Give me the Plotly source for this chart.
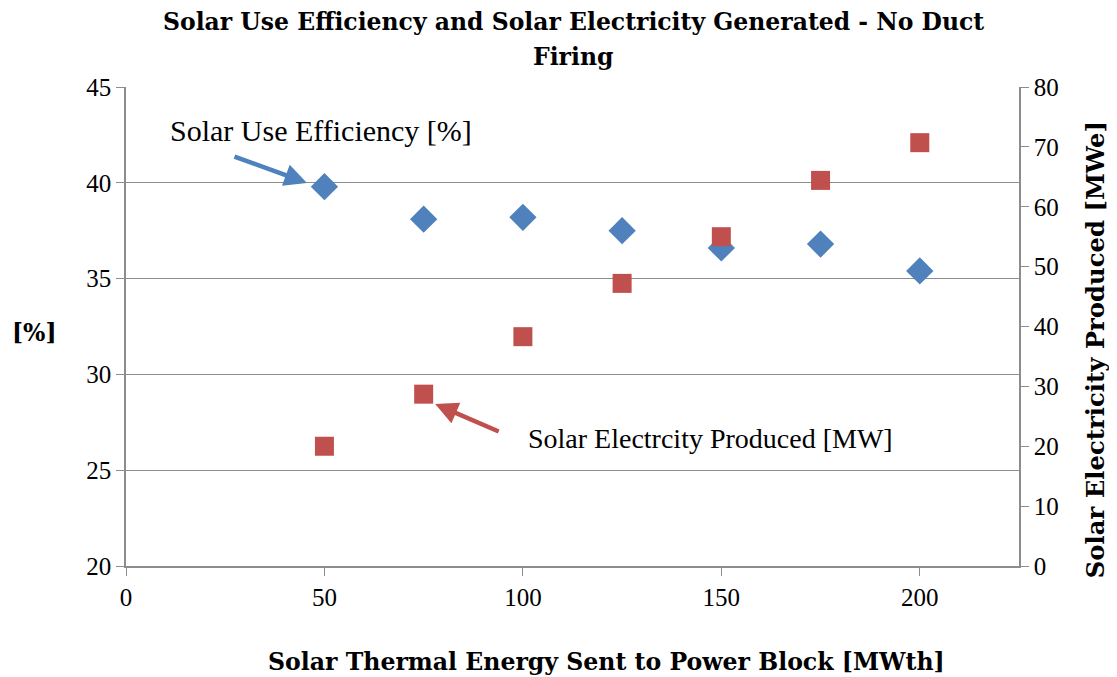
import plotly.graph_objects as go

# data
thermal_mwth = [50, 75, 100, 125, 150, 175, 200]
use_efficiency_pct = [39.8, 38.1, 38.2, 37.5, 36.6, 36.8, 35.4]
electricity_mwe = [20.0, 28.7, 38.3, 47.2, 55.0, 64.4, 70.7]

BLUE = "#4F81BD"
RED = "#C0504D"
GRID = "#8c8c8c"
SERIF = "Liberation Serif"
BOLD = "DejaVu Serif"

fig = go.Figure()

fig.add_trace(go.Scatter(
    x=thermal_mwth, y=use_efficiency_pct, mode="markers",
    name="Solar Use Efficiency [%]",
    marker=dict(symbol="diamond", size=21, color=BLUE),
))

fig.add_trace(go.Scatter(
    x=thermal_mwth, y=electricity_mwe, mode="markers",
    name="Solar Electricity Produced [MWe]", yaxis="y2",
    marker=dict(symbol="square", size=19, color=RED),
))

axis_common = dict(
    zeroline=False, automargin=False,
    showline=True, linecolor=GRID, linewidth=1.5,
    ticks="outside", ticklen=8, tickcolor=GRID,
    tickfont=dict(family=SERIF, size=25),
)

# page body adds an 8px offset, margins account for it
fig.update_layout(
    width=1117, height=677,
    margin=dict(l=118, r=106, t=79, b=119),
    plot_bgcolor="white", paper_bgcolor="white",
    showlegend=False,
    font=dict(family=SERIF, size=24, color="black"),
    xaxis=dict(range=[0, 225], tickvals=[0, 50, 100, 150, 200],
               showgrid=False, **axis_common),
    yaxis=dict(range=[20, 45], dtick=5,
               showgrid=True, gridcolor=GRID, gridwidth=1.2, **axis_common),
    yaxis2=dict(range=[0, 80], dtick=10, overlaying="y", side="right",
                showgrid=False, **axis_common),
)


def note(text, x, y, family=BOLD, size=23, angle=0):
    fig.add_annotation(text=text, xref="paper", yref="paper", x=x, y=y,
                       xanchor="center", yanchor="middle", showarrow=False,
                       textangle=angle, font=dict(family=family, size=size))


# titles
note("<b>Solar Use Efficiency and Solar Electricity Generated - No Duct</b>", 0.5006, 1.1357, size=23.5)
note("<b>Firing</b>", 0.5006, 1.0626, size=23.5)
note("<b>Solar Thermal Energy Sent to Power Block [MWth]</b>", 0.5386, -0.2004, size=23.6)
note("<b>[%]</b>", -0.102, 0.486, size=23.5)
note("<b>Solar Electricity Produced [MWe]</b>", 1.086, 0.452, size=24.3, angle=-90)

# callouts
note("Solar Use Efficiency [%]", 0.218, 0.910, family=SERIF, size=30)
note("Solar Electrcity Produced [MW]", 0.654, 0.267, family=SERIF, size=28)
fig.add_annotation(x=45.6, y=39.99, xref="x", yref="y", ax=-74, ay=-27, text="",
                   showarrow=True, arrowhead=2, arrowsize=1, arrowwidth=4.5, arrowcolor=BLUE)
fig.add_annotation(x=77.9, y=28.45, xref="x", yref="y", ax=65, ay=28, text="",
                   showarrow=True, arrowhead=2, arrowsize=1, arrowwidth=4.5, arrowcolor=RED)

fig.write_html("out.html")
